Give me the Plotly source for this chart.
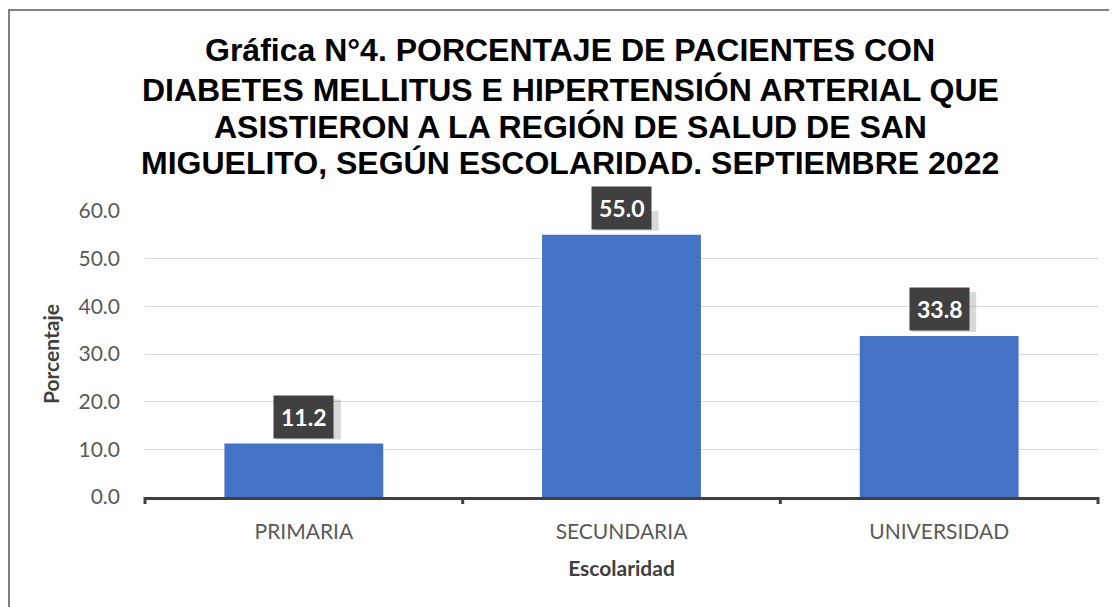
import plotly.graph_objects as go

categories = ["PRIMARIA", "SECUNDARIA", "UNIVERSIDAD"]
values = [11.2, 55.0, 33.8]
y_ticks = [0, 10, 20, 30, 40, 50, 60]
title_lines = [
    "Gráfica N°4. PORCENTAJE DE PACIENTES CON",
    "DIABETES MELLITUS E HIPERTENSIÓN ARTERIAL QUE",
    "ASISTIERON A LA REGIÓN DE SALUD DE SAN",
    "MIGUELITO, SEGÚN ESCOLARIDAD. SEPTIEMBRE 2022",
]

OFF = 8  # page body margin offset
W, H = 1117, 607
L = 145 - OFF
R = W - (1098 - OFF)
T = 211 - OFF
B = H - (497 - OFF)
pw = W - L - R
ph = H - T - B

FONT = "Lato, Noto Sans, sans-serif"

fig = go.Figure()
fig.add_trace(go.Bar(
    x=categories, y=values, width=0.5,
    marker=dict(color="#4472C4", line=dict(width=0)),
    hoverinfo="skip",
))

# data labels with soft shadow (shadow as pixel-sized shape)
for c, v in zip(categories, values):
    fig.add_shape(type="rect", xref="x", yref="y", xsizemode="pixel", ysizemode="pixel",
                  xanchor=c, yanchor=v, x0=-27, x1=37, y0=4, y1=44,
                  fillcolor="rgba(0,0,0,0.15)", line=dict(width=0), layer="above")
    fig.add_annotation(x=c, y=v, xref="x", yref="y", text=f"<b>{v:.1f}</b>",
                       showarrow=False, yshift=27,
                       font=dict(family=FONT, size=23, color="white"),
                       bgcolor="#404040", borderpad=7)

# title lines
line_y = [47, 87, 124, 160]
for txt, yy in zip(title_lines, line_y):
    py = yy + 3 - OFF
    fig.add_annotation(x=(570 - OFF - L) / pw, y=(H - py - B) / ph, xref="paper", yref="paper",
                       text=f"<b>{txt}</b>",
                       showarrow=False, xanchor="center", yanchor="middle",
                       font=dict(family="Liberation Sans, Arial", size=32, color="#000000"))

# outer border (left & top visible)
fig.add_shape(type="rect", xref="paper", yref="paper",
              x0=(1 - L) / pw, x1=(W + 20 - L) / pw,
              y0=(-30 - B) / ph, y1=(H - 2 - B) / ph,
              line=dict(color="#808080", width=2), fillcolor="rgba(0,0,0,0)", layer="below")

fig.update_layout(
    width=W, height=H,
    margin=dict(l=L, r=R, t=T, b=B, pad=0),
    paper_bgcolor="white", plot_bgcolor="white",
    showlegend=False,
    xaxis=dict(
        showline=True, linecolor="#404040", linewidth=3,
        ticks="", tickfont=dict(family=FONT, size=21, color="#595959"),
        ticklabelstandoff=14,
        title=dict(text="<b>Escolaridad</b>", font=dict(family=FONT, size=21, color="#404040"), standoff=20),
        showgrid=False, fixedrange=True,
    ),
    yaxis=dict(
        range=[0, 60], tickvals=y_ticks, ticktext=[f"{t:.1f}" for t in y_ticks],
        showgrid=True, gridcolor="#d9d9d9", gridwidth=1,
        showline=False, zeroline=False, ticks="",
        tickfont=dict(family=FONT, size=21, color="#595959"),
        ticklabelstandoff=24,
        title=dict(text="<b>Porcentaje</b>", font=dict(family=FONT, size=21, color="#404040"), standoff=13),
        fixedrange=True,
    ),
)

# category boundary tick marks below the axis
for b in [0, 1, 2, 3]:
    fig.add_shape(type="line", xref="paper", yref="paper",
                  x0=b / 3, x1=b / 3, y0=0, y1=-7 / ph,
                  line=dict(color="#404040", width=3))

fig.write_html("out.html")
